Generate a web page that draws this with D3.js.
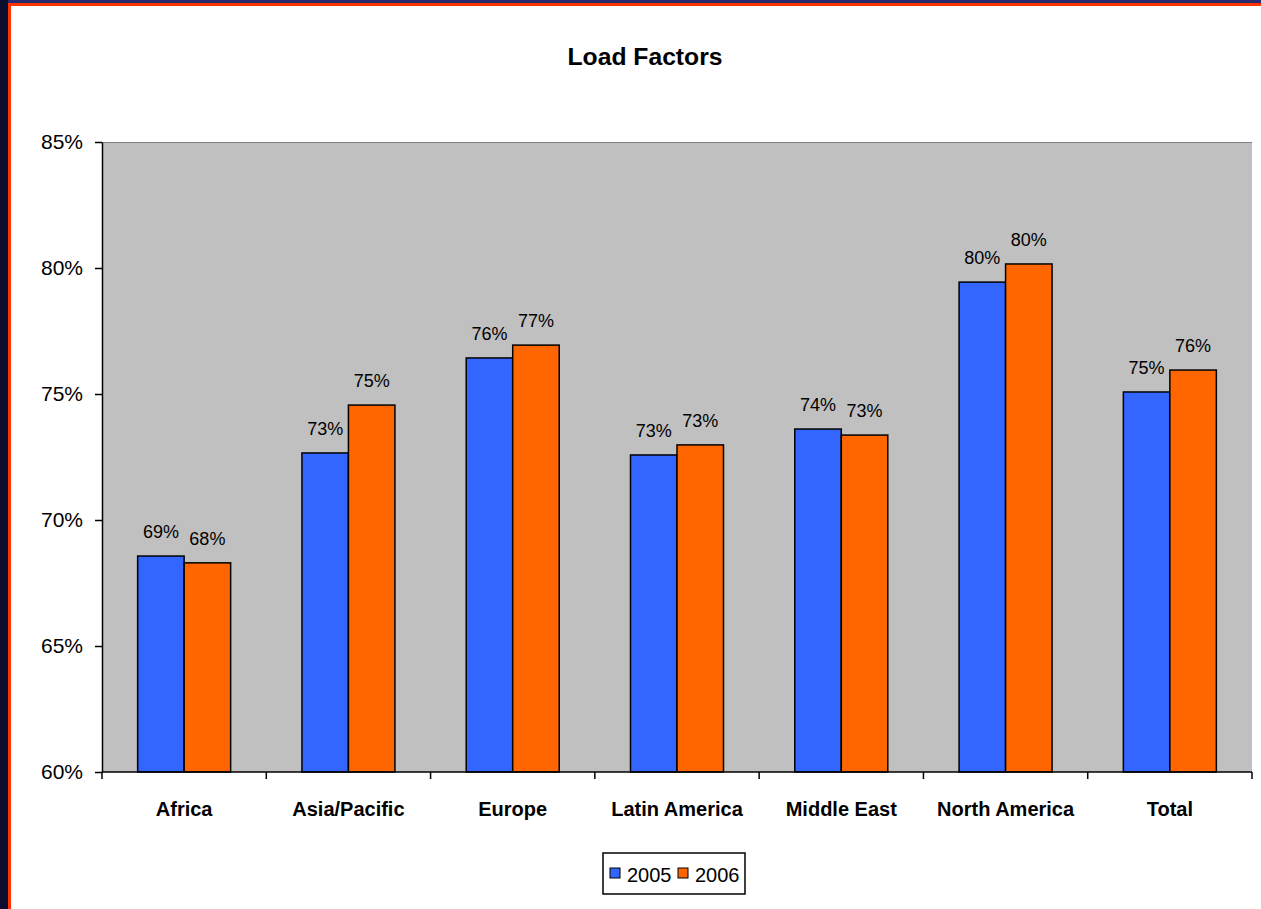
<!DOCTYPE html>
<html><head><meta charset="utf-8">
<script src="https://cdn.jsdelivr.net/npm/d3@7"></script>
<style>html,body{margin:0;padding:0;background:#fff;}svg{display:block;font-family:"Liberation Sans",Arial,sans-serif;}</style>
</head><body>
<svg id="c" width="1261" height="909"></svg>
<script>
const categories = ["Africa","Asia/Pacific","Europe","Latin America","Middle East","North America","Total"];
const series = ["2005","2006"];
const values2005 = [0.6857,0.7266,0.7643,0.7258,0.7361,0.7944,0.7508];
const values2006 = [0.6830,0.7456,0.7694,0.7298,0.7337,0.8016,0.7595];
const labels2005 = ["69%","73%","76%","73%","74%","80%","75%"];
const labels2006 = ["68%","75%","77%","73%","73%","80%","76%"];
const yTicks = [0.60,0.65,0.70,0.75,0.80,0.85];
const colors = ["#3366ff","#ff6600"];

const svg = d3.select("#c");
// frame decorations
svg.append("rect").attr("x",0).attr("y",0).attr("width",1261).attr("height",3).attr("fill","#2a2a6e");
svg.append("rect").attr("x",0).attr("y",0).attr("width",8).attr("height",909).attr("fill","#0c0c2e");
svg.append("rect").attr("x",8).attr("y",3).attr("width",1253).attr("height",3).attr("fill","#ff3300");
svg.append("rect").attr("x",8).attr("y",3).attr("width",3).attr("height",906).attr("fill","#ff3300");

const L=102,R=1252,T=142,B=772;
const x = d3.scaleBand().domain(categories).range([L,R]).paddingInner(0.434).paddingOuter(0.217);
const xs = d3.scaleBand().domain(series).range([0,x.bandwidth()]);
const y = d3.scaleLinear().domain([0.60,0.85]).range([B,T]);

svg.append("rect").attr("x",L).attr("y",T).attr("width",R-L).attr("height",B-T).attr("fill","#c0c0c0");
svg.append("line").attr("x1",L).attr("x2",R).attr("y1",T+0.5).attr("y2",T+0.5).attr("stroke","#808080");

svg.append("text").attr("x",645).attr("y",65).attr("text-anchor","middle").attr("font-weight","bold").attr("font-size",23)
  .attr("textLength",155).attr("lengthAdjust","spacingAndGlyphs").text("Load Factors");

const data = categories.map((c,i)=>({c, v:[values2005[i],values2006[i]], l:[labels2005[i],labels2006[i]]}));
const g = svg.append("g");
data.forEach(d=>{
  series.forEach((s,j)=>{
    g.append("rect").attr("x",x(d.c)+xs(s)).attr("y",y(d.v[j])).attr("width",xs.bandwidth()).attr("height",B-y(d.v[j]))
      .attr("fill",colors[j]).attr("stroke","#000").attr("stroke-width",1.5);
    g.append("text").attr("x",x(d.c)+xs(s)+xs.bandwidth()/2).attr("y",y(d.v[j])-18).attr("text-anchor","middle")
      .attr("font-size",18).text(d.l[j]);
  });
});

// y axis
const yAxis = d3.axisLeft(y).tickValues(yTicks).tickFormat(d3.format(".0%")).tickSize(7).tickSizeOuter(0).tickPadding(12);
const ya = svg.append("g").attr("transform",`translate(${L},0)`).call(yAxis);
ya.selectAll("text").attr("font-size",21).attr("font-family","Liberation Sans, Arial, sans-serif").attr("fill","#000");
ya.selectAll("line,path").attr("stroke","#000").attr("stroke-width",1.5);

// x axis with ticks at category boundaries
svg.append("line").attr("x1",L).attr("x2",R).attr("y1",B).attr("y2",B).attr("stroke","#000").attr("stroke-width",1.5);
const step = (R-L)/categories.length;
d3.range(categories.length+1).forEach(i=>{
  svg.append("line").attr("x1",L+i*step).attr("x2",L+i*step).attr("y1",B).attr("y2",B+7).attr("stroke","#000").attr("stroke-width",1.5);
});
categories.forEach(c=>{
  svg.append("text").attr("x",x(c)+x.bandwidth()/2).attr("y",816).attr("text-anchor","middle").attr("font-weight","bold").attr("font-size",20).text(c);
});

// legend
const lg = svg.append("g");
lg.append("rect").attr("x",603).attr("y",853).attr("width",142).attr("height",41).attr("fill","#fff").attr("stroke","#000").attr("stroke-width",1.5);
series.forEach((s,j)=>{
  const ox = 610 + j*68;
  lg.append("rect").attr("x",ox).attr("y",868).attr("width",10).attr("height",10).attr("fill",colors[j]).attr("stroke","#000").attr("stroke-width",1);
  lg.append("text").attr("x",ox+17).attr("y",882).attr("font-size",20).text(s);
});
</script>
</body></html>
